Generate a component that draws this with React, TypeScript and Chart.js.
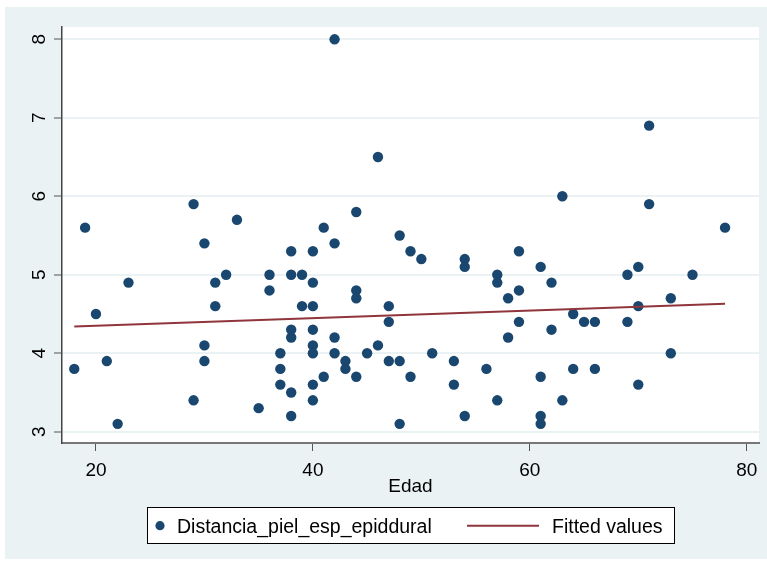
import React, { useEffect, useRef } from 'react';
import { Chart, registerables } from 'chart.js';

Chart.register(...registerables);

// ---- data ----
const edad = [
  18, 19, 20, 21, 22, 23, 29, 29, 30, 30, 30, 31, 31, 32, 33, 35, 36, 36, 37, 37, 37,
  38, 38, 38, 38, 38, 38, 39, 39, 40, 40, 40, 40, 40, 40, 40, 40, 41, 41, 42, 42, 42, 42,
  43, 43, 44, 44, 44, 44, 45, 46, 46, 47, 47, 47, 48, 48, 48, 49, 49, 50, 51, 53, 53,
  54, 54, 54, 56, 57, 57, 57, 58, 58, 59, 59, 59, 61, 61, 61, 61, 62, 62, 63, 63, 64, 64,
  65, 66, 66, 69, 69, 70, 70, 70, 71, 71, 73, 73, 75, 78,
];
const distancia = [
  3.8, 5.6, 4.5, 3.9, 3.1, 4.9, 5.9, 3.4, 5.4, 4.1, 3.9, 4.9, 4.6, 5.0, 5.7, 3.3, 5.0, 4.8, 4.0, 3.8, 3.6,
  5.3, 5.0, 4.3, 4.2, 3.5, 3.2, 5.0, 4.6, 5.3, 4.9, 4.6, 4.3, 4.1, 4.0, 3.6, 3.4, 5.6, 3.7, 8.0, 5.4, 4.2, 4.0,
  3.9, 3.8, 5.8, 4.8, 4.7, 3.7, 4.0, 6.5, 4.1, 4.6, 4.4, 3.9, 5.5, 3.9, 3.1, 5.3, 3.7, 5.2, 4.0, 3.9, 3.6,
  5.2, 5.1, 3.2, 3.8, 5.0, 4.9, 3.4, 4.7, 4.2, 5.3, 4.8, 4.4, 5.1, 3.7, 3.2, 3.1, 4.9, 4.3, 6.0, 3.4, 4.5, 3.8,
  4.4, 4.4, 3.8, 5.0, 4.4, 5.1, 4.6, 3.6, 6.9, 5.9, 4.7, 4.0, 5.0, 5.6,
];
const fittedX = [18, 78];
const fittedY = [4.34, 4.63];
const xTicks = [20, 40, 60, 80];
const yTicks = [3, 4, 5, 6, 7, 8];
const seriesLabels = ['Distancia_piel_esp_epiddural', 'Fitted values'];
const xTitle = 'Edad';

// ---- styling ----
const FONT = '"Liberation Sans", Arial, Helvetica, sans-serif';
const BG = '#eaf2f3';
const NAVY = '#1a476f';
const MAROON = '#90353b';
const W = 762;
const H = 552;

const stataPlugin = {
  id: 'stataLook',
  beforeDraw(chart: any) {
    const { ctx, chartArea } = chart;
    ctx.save();
    ctx.fillStyle = BG;
    ctx.fillRect(0, 0, chart.width, chart.height);
    ctx.fillStyle = '#ffffff';
    ctx.fillRect(chartArea.left, chartArea.top, chartArea.right - chartArea.left, chartArea.bottom - chartArea.top);
    ctx.restore();
  },
  afterDraw(chart: any) {
    const { ctx } = chart;
    const ys = chart.scales.y;
    const xs = chart.scales.x;
    ctx.save();
    ctx.fillStyle = '#000000';
    // rotated y tick labels
    ctx.font = `19px ${FONT}`;
    ctx.textAlign = 'center';
    ctx.textBaseline = 'alphabetic';
    ys.ticks.forEach((t: any) => {
      const py = ys.getPixelForValue(t.value);
      ctx.save();
      ctx.translate(40, py);
      ctx.rotate(-Math.PI / 2);
      ctx.fillText(String(t.value), 0, 0);
      ctx.restore();
    });
    // x title
    ctx.fillText(xTitle, (xs.left + xs.right) / 2, 485.3);

    // legend
    const lx = 142.5, ly = 500.5, lw = 527, lh = 36;
    ctx.fillStyle = '#ffffff';
    ctx.fillRect(lx, ly, lw, lh);
    ctx.strokeStyle = '#000000';
    ctx.lineWidth = 1;
    ctx.strokeRect(lx, ly, lw, lh);
    const ds = chart.data.datasets;
    ctx.fillStyle = NAVY;
    ctx.beginPath();
    ctx.arc(155, 518.7, 4.6, 0, Math.PI * 2);
    ctx.fill();
    ctx.strokeStyle = MAROON;
    ctx.lineWidth = 2;
    ctx.beginPath();
    ctx.moveTo(462, 518.7);
    ctx.lineTo(534, 518.7);
    ctx.stroke();
    ctx.fillStyle = '#000000';
    ctx.font = `19.5px ${FONT}`;
    ctx.textAlign = 'left';
    ctx.fillText(ds[0].label, 172, 525.7);
    ctx.fillText(ds[1].label, 547, 525.7);
    ctx.restore();
  },
};

export default function App() {
  const ref = useRef<HTMLCanvasElement | null>(null);

  useEffect(() => {
    if (!ref.current) return;
    const chart = new Chart(ref.current, {
      type: 'scatter',
      data: {
        datasets: [
          {
            type: 'scatter',
            label: seriesLabels[0],
            data: edad.map((x, i) => ({ x, y: distancia[i] })),
            backgroundColor: NAVY,
            borderWidth: 0,
            pointRadius: 5.2,
            pointHoverRadius: 5.2,
            order: 1,
          } as any,
          {
            type: 'line',
            label: seriesLabels[1],
            data: fittedX.map((x, i) => ({ x, y: fittedY[i] })),
            borderColor: MAROON,
            borderWidth: 2,
            pointRadius: 0,
            fill: false,
            order: 0,
          } as any,
        ],
      },
      options: {
        responsive: false,
        animation: false,
        devicePixelRatio: 1,
        layout: { padding: { left: 0, top: 20, right: 8, bottom: 0 } },
        plugins: { legend: { display: false }, tooltip: { enabled: false } },
        scales: {
          x: {
            type: 'linear',
            min: 16.87,
            max: 81.13,
            afterBuildTicks: (s: any) => {
              s.ticks = xTicks.map((v) => ({ value: v }));
            },
            afterFit: (s: any) => {
              s.height = 116;
            },
            grid: { drawOnChartArea: false, drawTicks: true, tickLength: 8, tickColor: '#555555', tickWidth: 1 },
            border: { color: '#777777', width: 2 },
            ticks: { font: { family: FONT, size: 19 }, color: '#000000', padding: 8, maxRotation: 0 },
          },
          y: {
            type: 'linear',
            min: 2.856,
            max: 8.157,
            afterBuildTicks: (s: any) => {
              s.ticks = yTicks.map((v) => ({ value: v }));
            },
            afterFit: (s: any) => {
              s.width = 57;
            },
            grid: { color: BG, lineWidth: 2, drawTicks: true, tickLength: 8, tickColor: '#555555', tickWidth: 1 },
            border: { color: '#444444', width: 1.5 },
            ticks: { display: false },
          },
        },
      } as any,
      plugins: [stataPlugin],
    });
    return () => chart.destroy();
  }, []);

  return (
    <div style={{ position: 'absolute', left: 5, top: 7 }}>
      <canvas ref={ref} width={W} height={H} style={{ display: 'block', width: W, height: H }} />
    </div>
  );
}
